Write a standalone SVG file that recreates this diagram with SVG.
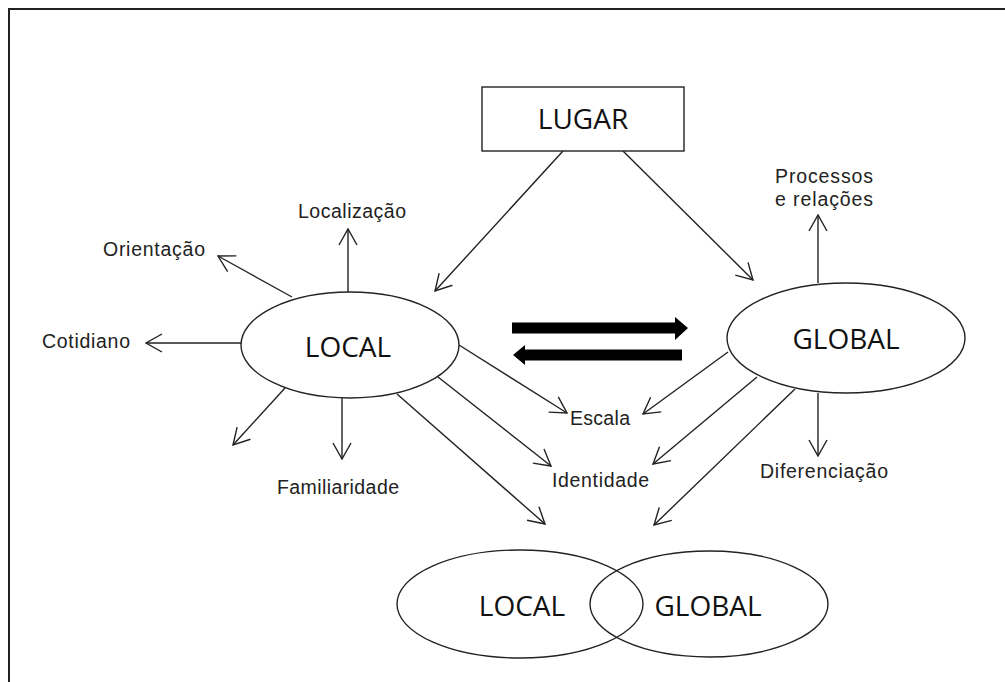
<svg xmlns="http://www.w3.org/2000/svg" width="1005" height="682" viewBox="0 0 1005 682">
<style>
.shape{fill:#fff;stroke:#222;stroke-width:1.4}
.ln{stroke:#222;stroke-width:1.4;fill:none;marker-end:url(#ah)}
.big{font-family:"Open Sans","Noto Sans",sans-serif;font-size:28px;fill:#111;text-anchor:middle}
.lbl{font-family:"Liberation Sans",Arial,sans-serif;font-size:19.5px;fill:#222}
</style>
<defs>
<marker id="ah" viewBox="0 0 18 20" refX="17" refY="10" markerWidth="18" markerHeight="20" markerUnits="userSpaceOnUse" orient="auto">
<path d="M1,1 L17,10 L1,19" fill="none" stroke="#222" stroke-width="1.4"/>
</marker>
</defs>
<rect width="1005" height="682" fill="#fff"/>
<path d="M9,682 V9 H1005" fill="none" stroke="#222" stroke-width="2"/>

<g id="connectors">
<line class="ln" x1="563" y1="151" x2="435" y2="291"/>
<line class="ln" x1="623" y1="151" x2="753" y2="280"/>
<line class="ln" x1="348" y1="292" x2="348" y2="229"/>
<line class="ln" x1="292" y1="297" x2="218" y2="256"/>
<line class="ln" x1="241" y1="343" x2="146" y2="343"/>
<line class="ln" x1="285" y1="388" x2="233" y2="445"/>
<line class="ln" x1="342" y1="398" x2="342" y2="459"/>
<line class="ln" x1="459" y1="345" x2="567" y2="413"/>
<line class="ln" x1="438" y1="377" x2="551" y2="466"/>
<line class="ln" x1="397" y1="394" x2="545" y2="524"/>
<line class="ln" x1="818" y1="283" x2="818" y2="215"/>
<line class="ln" x1="818" y1="393" x2="818" y2="456"/>
<line class="ln" x1="728" y1="352" x2="643" y2="414"/>
<line class="ln" x1="757" y1="377" x2="653" y2="464"/>
<line class="ln" x1="795" y1="389" x2="654" y2="525"/>
<path d="M512,322.5 H675 V317 L688,328 L675,340 V333.5 H512 Z" fill="#000"/>
<path d="M682,349.5 H525 V345 L513,355 L525,365 V360.5 H682 Z" fill="#000"/>
</g>

<g id="lugar">
<rect class="shape" x="482" y="87" width="202" height="64"/>
<text class="big" x="583" y="129" font-size="26">LUGAR</text>
</g>
<g id="local">
<ellipse class="shape" cx="350" cy="345" rx="109" ry="53"/>
<text class="big" x="348" y="357" font-size="28.5">LOCAL</text>
</g>
<g id="global">
<ellipse class="shape" cx="846" cy="338" rx="119" ry="55"/>
<text class="big" x="846" y="349" font-size="31">GLOBAL</text>
</g>
<g id="venn">
<ellipse cx="520" cy="604" rx="123" ry="54" fill="none" stroke="#222" stroke-width="1.4"/>
<ellipse cx="709" cy="604" rx="119" ry="53" fill="none" stroke="#222" stroke-width="1.4"/>
<text class="big" x="522" y="616">LOCAL</text>
<text class="big" x="708" y="616" font-size="28.5">GLOBAL</text>
</g>

<g id="labels">
<text class="lbl" x="298" y="218" textLength="108" lengthAdjust="spacing">Localização</text>
<text class="lbl" x="103" y="256" textLength="102" lengthAdjust="spacing">Orientação</text>
<text class="lbl" x="42" y="348" textLength="88" lengthAdjust="spacing">Cotidiano</text>
<text class="lbl" x="277" y="494" textLength="122" lengthAdjust="spacing">Familiaridade</text>
<text class="lbl" x="775" y="183" textLength="98" lengthAdjust="spacing">Processos</text>
<text class="lbl" x="775" y="206" textLength="98" lengthAdjust="spacing">e relações</text>
<text class="lbl" x="570" y="425" textLength="60" lengthAdjust="spacing">Escala</text>
<text class="lbl" x="552" y="487" textLength="97" lengthAdjust="spacing">Identidade</text>
<text class="lbl" x="760" y="478" textLength="128" lengthAdjust="spacing">Diferenciação</text>
</g>
</svg>
